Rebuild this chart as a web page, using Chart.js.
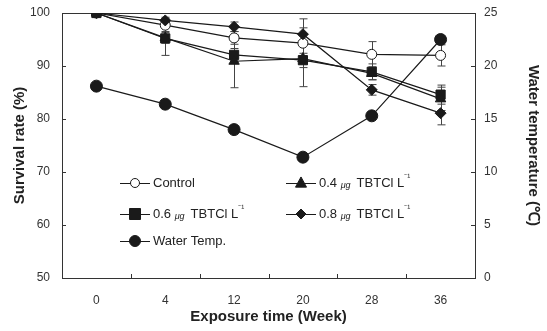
<!DOCTYPE html>
<html>
<head>
<meta charset="utf-8">
<script src="https://cdn.jsdelivr.net/npm/chart.js@4/dist/chart.umd.min.js"></script>
<style>
  html, body { margin: 0; padding: 0; background: #fff; }
  #wrap { width: 547px; height: 331px; }
</style>
</head>
<body>
<div id="wrap"><canvas id="chart" width="547" height="331"></canvas></div>
<script>
// Semanas de exposição (eixo x)
const weeks = ['0', '4', '12', '20', '28', '36'];

// Taxa de sobrevivência (%) por grupo
const control = [100, 97.7, 95.3, 94.3, 92.2, 92.0];
const tbt04 = [100, 95.3, 90.9, 91.4, 88.6, 83.8];
const tbt06 = [100, 95.2, 92.1, 91.1, 88.9, 84.6];
const tbt08 = [100, 98.6, 97.4, 96.0, 85.5, 81.1];

// Barras de erro (± meia amplitude)
const controlErr = [0, 1.2, 1.2, 4.6, 2.4, 2.0];
const tbt04Err = [0, 1.0, 5.0, 1.0, 1.2, 2.2];
const tbt06Err = [0, 3.2, 1.2, 5.0, 1.5, 1.8];
const tbt08Err = [0, 0.6, 0.9, 1.2, 1.0, 2.2];

// Temperatura da água (°C), eixo da direita
const waterTemp = [18.1, 16.4, 14.0, 11.4, 15.3, 22.5];

const leftTicks = [50, 60, 70, 80, 90, 100];
const rightTicks = [0, 5, 10, 15, 20, 25];

const ink = '#1a1a1a';
const labelFont = "'Liberation Sans', Arial, sans-serif";

// Desenha um marcador (usado na legenda)
function drawMarker(ctx, style, x, y, r, filled) {
    ctx.save();
    ctx.beginPath();
    if (style === 'circle') {
        ctx.arc(x, y, r, 0, Math.PI * 2);
    } else if (style === 'rect') {
        ctx.rect(x - r, y - r, r * 2, r * 2);
    } else if (style === 'triangle') {
        ctx.moveTo(x, y - r * 1.1);
        ctx.lineTo(x + r, y + r * 0.75);
        ctx.lineTo(x - r, y + r * 0.75);
        ctx.closePath();
    } else if (style === 'rectRot') {
        ctx.moveTo(x, y - r);
        ctx.lineTo(x + r, y);
        ctx.lineTo(x, y + r);
        ctx.lineTo(x - r, y);
        ctx.closePath();
    }
    ctx.fillStyle = filled ? ink : '#fff';
    ctx.fill();
    ctx.strokeStyle = ink;
    ctx.lineWidth = 1;
    ctx.stroke();
    ctx.restore();
}

// Plugin: moldura, marcas internas e barras de erro
const framePlugin = {
    id: 'frame',
    beforeDatasetsDraw(chart) {
        const ctx = chart.ctx;
        const a = chart.chartArea;
        const x = chart.scales.x;
        const y = chart.scales.y;
        const y1 = chart.scales.y1;
        ctx.save();
        ctx.strokeStyle = '#333';
        ctx.lineWidth = 1;
        ctx.strokeRect(a.left + 0.5, a.top + 0.5, a.right - a.left, a.bottom - a.top);
        ctx.beginPath();
        // marcas do eixo x nas fronteiras das categorias
        const step = (a.right - a.left) / weeks.length;
        for (let i = 1; i < weeks.length; i++) {
            const px = Math.round(a.left + step * i) + 0.5;
            ctx.moveTo(px, a.bottom);
            ctx.lineTo(px, a.bottom - 4);
        }
        leftTicks.forEach(v => {
            const py = Math.round(y.getPixelForValue(v)) + 0.5;
            ctx.moveTo(a.left, py);
            ctx.lineTo(a.left + 4, py);
        });
        rightTicks.forEach(v => {
            const py = Math.round(y1.getPixelForValue(v)) + 0.5;
            ctx.moveTo(a.right, py);
            ctx.lineTo(a.right - 4, py);
        });
        ctx.stroke();

        // barras de erro
        const groups = [[control, controlErr], [tbt04, tbt04Err], [tbt06, tbt06Err], [tbt08, tbt08Err]];
        ctx.strokeStyle = '#444';
        ctx.beginPath();
        groups.forEach(([vals, errs]) => {
            vals.forEach((v, i) => {
                if (!errs[i]) return;
                const px = Math.round(x.getPixelForValue(i)) + 0.5;
                const top = y.getPixelForValue(v + errs[i]);
                const bot = y.getPixelForValue(v - errs[i]);
                ctx.moveTo(px, top);
                ctx.lineTo(px, bot);
                ctx.moveTo(px - 4, top);
                ctx.lineTo(px + 4, top);
                ctx.moveTo(px - 4, bot);
                ctx.lineTo(px + 4, bot);
            });
        });
        ctx.stroke();
        ctx.restore();
    },
    afterDraw(chart) {
        // legenda dentro da área do gráfico
        const ctx = chart.ctx;
        const items = [
            { text: 'Control', style: 'circle', r: 4.5, filled: false, x: 120, y: 183 },
            { text: '0.4 ', conc: true, style: 'triangle', r: 5.5, filled: true, x: 286, y: 183 },
            { text: '0.6 ', conc: true, style: 'rect', r: 5.5, filled: true, x: 120, y: 214 },
            { text: '0.8 ', conc: true, style: 'rectRot', r: 5, filled: true, x: 286, y: 214 },
            { text: 'Water Temp.', style: 'circle', r: 5.5, filled: true, x: 120, y: 241 }
        ];
        ctx.save();
        ctx.textBaseline = 'middle';
        items.forEach(it => {
            ctx.strokeStyle = ink;
            ctx.lineWidth = 1;
            ctx.beginPath();
            ctx.moveTo(it.x, it.y + 0.5);
            ctx.lineTo(it.x + 30, it.y + 0.5);
            ctx.stroke();
            drawMarker(ctx, it.style, it.x + 15, it.y, it.r, it.filled);
            let tx = it.x + 33;
            ctx.fillStyle = '#222';
            ctx.font = '13px ' + labelFont;
            ctx.fillText(it.text, tx, it.y);
            tx += ctx.measureText(it.text).width;
            if (it.conc) {
                ctx.font = 'italic 9px ' + labelFont;
                ctx.fillText('μg', tx, it.y + 2);
                tx += ctx.measureText('μg').width + 6;
                ctx.font = '13px ' + labelFont;
                ctx.fillText('TBTCl L', tx, it.y);
                tx += ctx.measureText('TBTCl L').width;
                ctx.font = '9px ' + labelFont;
                ctx.fillText('⁻¹', tx, it.y - 5);
            }
        });
        ctx.restore();
    }
};

function lineSet(label, data, style, radius, filled, axis) {
    return {
        label: label,
        data: data,
        yAxisID: axis,
        borderColor: ink,
        borderWidth: 1.2,
        backgroundColor: filled ? ink : '#fff',
        pointStyle: style,
        pointRadius: radius,
        pointBorderColor: ink,
        pointBorderWidth: 1,
        pointBackgroundColor: filled ? ink : '#fff',
        tension: 0
    };
}

new Chart(document.getElementById('chart').getContext('2d'), {
    type: 'line',
    data: {
        labels: weeks,
        datasets: [
            lineSet('Water Temp.', waterTemp, 'circle', 6, true, 'y1'),
            lineSet('0.8 μg TBTCl L⁻¹', tbt08, 'rectRot', 5.5, true, 'y'),
            lineSet('0.4 μg TBTCl L⁻¹', tbt04, 'triangle', 6, true, 'y'),
            lineSet('0.6 μg TBTCl L⁻¹', tbt06, 'rect', 6.5, true, 'y'),
            lineSet('Control', control, 'circle', 5, false, 'y')
        ]
    },
    options: {
        responsive: false,
        animation: false,
        layout: { padding: { top: 13, left: 0, right: 0, bottom: 0 } },
        plugins: {
            legend: { display: false },
            tooltip: { enabled: false }
        },
        scales: {
            x: {
                offset: true,
                grid: { display: false },
                border: { display: false },
                ticks: { color: '#333', font: { family: labelFont, size: 12 }, padding: 7 },
                title: {
                    display: true,
                    text: 'Exposure time (Week)',
                    color: '#222',
                    font: { family: labelFont, size: 15, weight: 'bold' },
                    padding: { top: 0, bottom: 5 }
                },
                afterFit: s => { s.height = 53; }
            },
            y: {
                position: 'left',
                min: 50,
                max: 100,
                afterBuildTicks: s => { s.ticks = leftTicks.map(v => ({ value: v })); },
                grid: { display: false },
                border: { display: false },
                ticks: { color: '#333', font: { family: labelFont, size: 12 }, padding: 4 },
                title: {
                    display: true,
                    text: 'Survival rate (%)',
                    color: '#222',
                    font: { family: labelFont, size: 15, weight: 'bold' },
                    padding: { top: 11, bottom: 0 }
                },
                afterFit: s => { s.width = 62; }
            },
            y1: {
                position: 'right',
                min: 0,
                max: 25,
                afterBuildTicks: s => { s.ticks = rightTicks.map(v => ({ value: v })); },
                grid: { display: false },
                border: { display: false },
                ticks: { color: '#333', font: { family: labelFont, size: 12 }, padding: 1 },
                title: {
                    display: true,
                    text: 'Water temperature (℃)',
                    color: '#222',
                    font: { family: labelFont, size: 15, weight: 'bold' },
                    padding: { top: 5, bottom: 5 }
                },
                afterFit: s => { s.width = 72; }
            }
        }
    },
    plugins: [framePlugin]
});
</script>
</body>
</html>
